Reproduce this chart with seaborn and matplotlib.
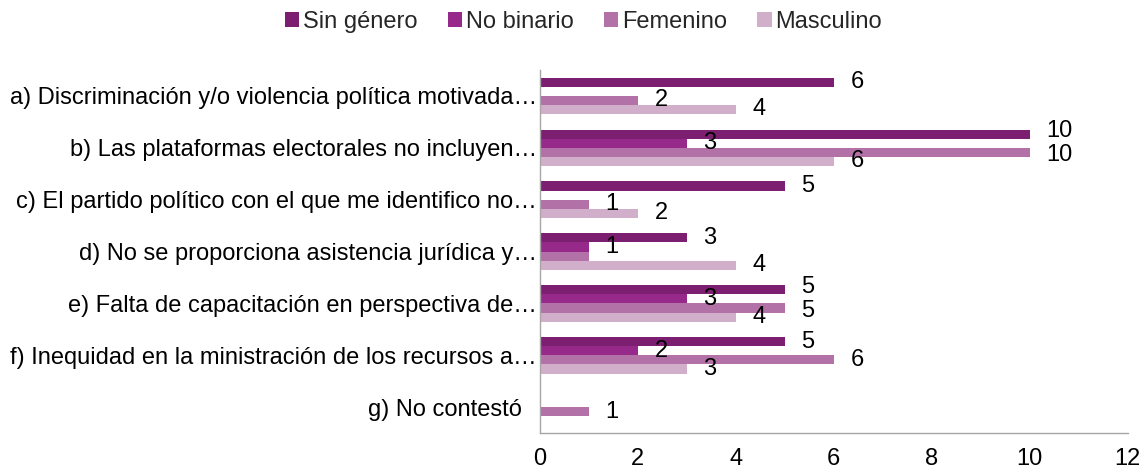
import matplotlib
matplotlib.use('Agg')
import matplotlib.pyplot as plt
import matplotlib.transforms as mtransforms
import seaborn as sns
import pandas as pd

categorias = ['a) Discriminación y/o violencia política motivada…',
              'b) Las plataformas electorales no incluyen…',
              'c) El partido político con el que me identifico no…',
              'd) No se proporciona asistencia jurídica y…',
              'e) Falta de capacitación en perspectiva de…',
              'f) Inequidad en la ministración de los recursos a…',
              'g) No contestó']
series = ['Sin género', 'No binario', 'Femenino', 'Masculino']

sin_genero = [6, 10, 5, 3, 5, 5, 0]
no_binario = [0, 3, 0, 1, 3, 2, 0]
femenino = [2, 10, 1, 1, 5, 6, 1]
masculino = [4, 6, 2, 4, 4, 3, 0]

colores = ['#7D1F70', '#97298A', '#B271A7', '#D1AFCB']

df = pd.DataFrame({'categoria': categorias * 4,
                   'serie': [s for s in series for _ in categorias],
                   'valor': sin_genero + no_binario + femenino + masculino})

sns.set_style('white')
plt.rcParams['font.family'] = ['Liberation Sans', 'DejaVu Sans']
fs = 17
pad = 12

fig, ax = plt.subplots(figsize=(11.46, 4.75), dpi=100)
fig.subplots_adjust(left=0.471, right=0.984, top=0.853, bottom=0.088)

sns.barplot(data=df, x='valor', y='categoria', hue='serie', hue_order=series,
            palette=colores, orient='h', width=0.7, ax=ax, saturation=1,
            edgecolor='none')

ax.set_xlim(0, 12)
ax.set_xticks(range(0, 13, 2))
ax.set_ylim(6.5, -0.5)

# etiquetas de datos, agrupadas por categoría para separarlas si se pisan
grupos = {j: [] for j in range(len(categorias))}
for i, cont in enumerate(ax.containers):
    vals = cont.datavalues
    etiquetas = [f'{v:g}' if v > 0 else '' for v in vals]
    # en la d) la etiqueta de Femenino queda tapada por la de No binario
    if series[i] == 'Femenino':
        etiquetas[3] = ''
    anns = ax.bar_label(cont, labels=etiquetas, padding=pad, fontsize=fs, color='#000000')
    for j, (ann, v) in enumerate(zip(anns, vals)):
        if etiquetas[j]:
            grupos[j].append([ann, v, 0.0])

px_por_unidad = ax.transData.transform((1, 0))[0] - ax.transData.transform((0, 0))[0]
min_sep = 24  # px
for j, items in grupos.items():
    base = [ax.transData.transform((0, it[0].xy[1]))[1] for it in items]
    for _ in range(60):
        for a in range(len(items)):
            for b in range(a + 1, len(items)):
                if abs(items[a][1] - items[b][1]) * px_por_unidad > 20:
                    continue
                ya = base[a] + items[a][2]
                yb = base[b] + items[b][2]
                d = abs(ya - yb)
                if d < min_sep:
                    empuje = (min_sep - d) / 2
                    s = 1 if ya > yb else -1
                    items[a][2] += s * empuje
                    items[b][2] -= s * empuje
    for ann, v, dy in items:
        ann.xyann = (pad, dy * 72 / fig.dpi)

ax.set_xlabel('')
ax.set_ylabel('')
ax.tick_params(axis='both', labelsize=fs, length=0, colors='#000000')
ax.tick_params(axis='x', pad=11)
ax.tick_params(axis='y', pad=2)
for s in ['top', 'right']:
    ax.spines[s].set_visible(False)
for s in ['left', 'bottom']:
    ax.spines[s].set_color('#A6A6A6')
    ax.spines[s].set_linewidth(1)

# "g) No contestó" queda algo más separado del eje
lbl = ax.get_yticklabels()[6]
lbl.set_transform(lbl.get_transform() +
                  mtransforms.ScaledTranslation(-0.15, 0, fig.dpi_scale_trans))

ax.legend(loc='upper center', bbox_to_anchor=(0.509, 1.0),
          bbox_transform=fig.transFigure, ncol=4, frameon=False, fontsize=fs,
          handlelength=0.6, handleheight=0.6, handletextpad=0.15, columnspacing=1.3,
          borderaxespad=0.05)

plt.savefig('out.png', dpi=100)
